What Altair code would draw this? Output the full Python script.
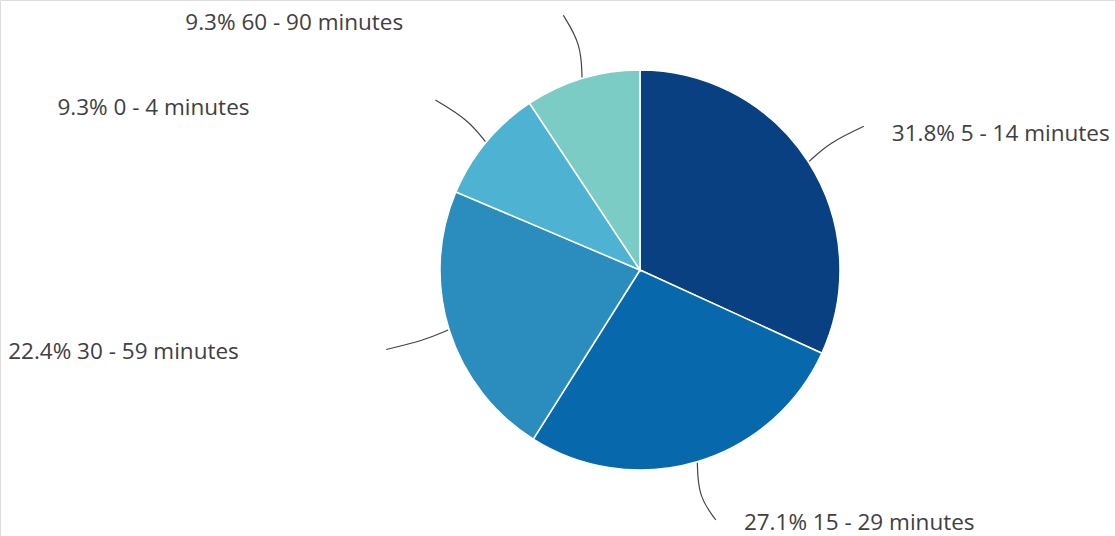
import math
import altair as alt
import pandas as pd

categories = ["5 - 14 minutes", "15 - 29 minutes", "30 - 59 minutes", "0 - 4 minutes", "60 - 90 minutes"]
shares = [31.8, 27.1, 22.4, 9.3, 9.3]
colors = ["#084081", "#0868ac", "#2b8cbe", "#4eb3d3", "#7bccc4"]

W, H = 1115, 536
CX, CY, R = 640, 270, 200
LEN = 66

total = sum(shares)
pie_rows, line_rows, text_rows = [], [], []
cum = 0.0
for i, (c, v) in enumerate(zip(categories, shares)):
    mid = (cum + v / 2) / total * 2 * math.pi
    cum += v
    pie_rows.append({"cat": c, "val": v, "idx": i})
    sx, sy = math.sin(mid), -math.cos(mid)
    side = 1 if sx > 0 else -1
    ex, ey = CX + (R + LEN) * sx, CY + (R + LEN) * sy
    ey = min(ey, H - 16)
    # connector: pie edge -> bend (pulled toward vertical) -> label end
    pts = [(CX + (R + 1) * sx, CY + (R + 1) * sy),
           (CX + (R + 36) * sx - 9 * side, CY + (R + 36) * sy),
           (ex, ey)]
    for k, (px, py) in enumerate(pts):
        line_rows.append({"cat": c, "k": k, "x": px, "y": py})
    tx = ex + 28 if sx > 0 else ex - 378
    ty = ey + (8 if sy < 0 else 3)
    text_rows.append({"cat": c, "label": f"{v}% {c}", "x": tx, "y": ty})

pie_df = pd.DataFrame(pie_rows)
line_df = pd.DataFrame(line_rows)
text_df = pd.DataFrame(text_rows)

xs = alt.Scale(domain=[0, W], range=[0, W])
ys = alt.Scale(domain=[0, H], range=[0, H])

pie = alt.Chart(pie_df).mark_arc(stroke="white", strokeWidth=1.5).encode(
    theta=alt.Theta("val:Q", stack=True),
    order=alt.Order("idx:Q"),
    color=alt.Color("cat:N", scale=alt.Scale(domain=categories, range=colors), legend=None),
    x=alt.value(CX), y=alt.value(CY), radius=alt.value(R),
)

lines = alt.Chart(line_df).mark_line(color="#444444", strokeWidth=1.2, interpolate="basis").encode(
    x=alt.X("x:Q", scale=xs, axis=None),
    y=alt.Y("y:Q", scale=ys, axis=None),
    detail="cat:N",
    order="k:Q",
)

texts = alt.Chart(text_df).mark_text(
    align="left", baseline="middle", font="Open Sans", fontSize=22.5, color="#404040"
).encode(
    x=alt.X("x:Q", scale=xs, axis=None),
    y=alt.Y("y:Q", scale=ys, axis=None),
    text="label:N",
)

chart = alt.layer(pie, lines, texts).properties(
    width=W, height=H, padding=0, autosize=alt.AutoSizeParams(type="none")
).configure_view(stroke=None).configure(background="white")

chart.save("out.html", embed_options={"renderer": "svg", "actions": False})
